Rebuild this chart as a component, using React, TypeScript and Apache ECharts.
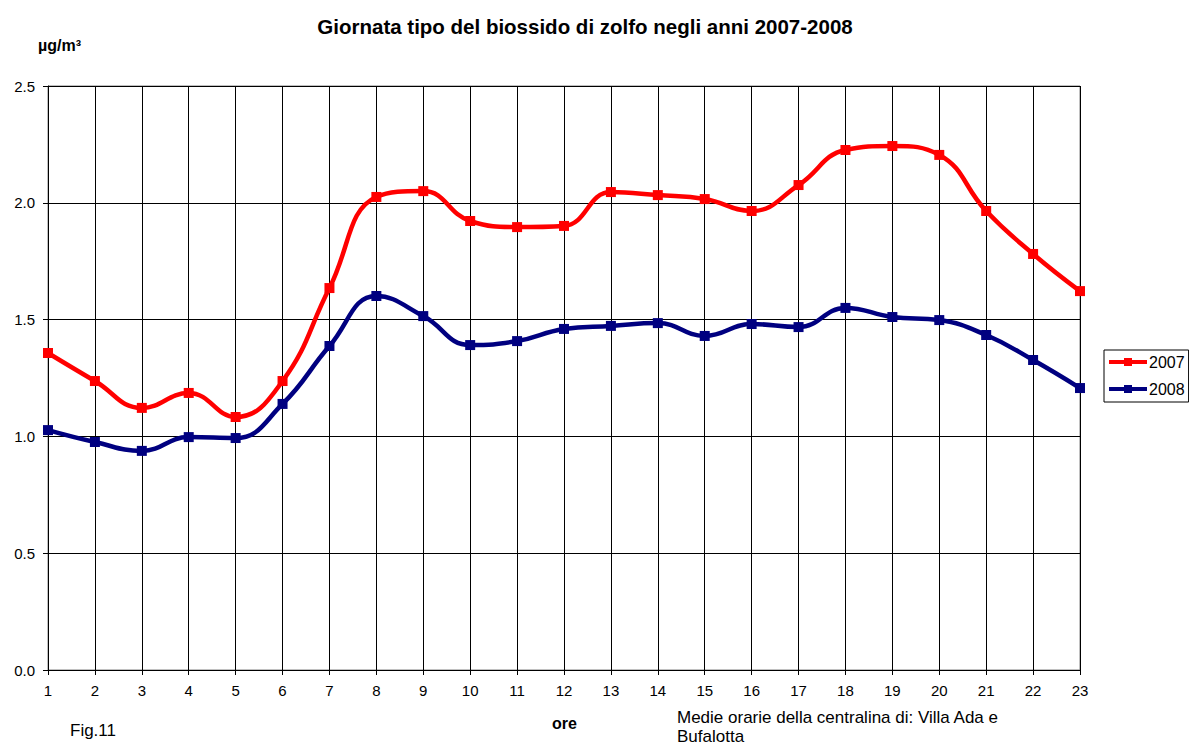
import React, { useEffect, useRef } from "react";
import * as echarts from "echarts";

const hours = ["1","2","3","4","5","6","7","8","9","10","11","12","13","14","15","16","17","18","19","20","21","22","23"];
const values2007 = [1.357,1.237,1.122,1.186,1.083,1.237,1.635,2.025,2.05,1.922,1.896,1.901,2.046,2.033,2.016,1.965,2.076,2.226,2.243,2.205,1.965,1.781,1.622];
const values2008 = [1.027,0.976,0.938,0.997,0.993,1.139,1.387,1.601,1.515,1.391,1.408,1.46,1.473,1.485,1.43,1.481,1.468,1.55,1.511,1.498,1.434,1.327,1.207];
const yTicks = { min: 0, max: 2.5, interval: 0.5 };

const FONT = "'Liberation Sans', Arial, sans-serif";

export default function App() {
  const ref = useRef<HTMLDivElement>(null);
  useEffect(() => {
    if (!ref.current) return;
    const chart = echarts.init(ref.current, null, { renderer: "svg" });
    chart.setOption({
      animation: false,
      backgroundColor: "#ffffff",
      textStyle: { fontFamily: FONT },
      grid: { left: 48, right: 109, top: 86, bottom: 75, show: true, borderColor: "#808080", borderWidth: 1 },
      title: [
        { text: "Giornata tipo del biossido di zolfo negli anni 2007-2008", left: 580, top: 11, textAlign: "center",
          textStyle: { fontFamily: FONT, fontSize: 20.5, fontWeight: "bold", color: "#000" } },
      ],
      graphic: [
        { type: "text", left: 38, top: 37, style: { text: "µg/m³", font: `bold 16px ${FONT}`, fill: "#000" } },
        { type: "text", left: 552, top: 715, style: { text: "ore", font: `bold 16px ${FONT}`, fill: "#000" } },
        { type: "text", left: 70, top: 722, style: { text: "Fig.11", font: `17px ${FONT}`, fill: "#000" } },
        { type: "text", left: 677, top: 708, style: { text: "Medie orarie della centralina di: Villa Ada e\nBufalotta", font: `17px ${FONT}`, lineHeight: 19, fill: "#000" } },
      ],
      legend: {
        orient: "vertical",
        left: 1104,
        top: 350,
        itemWidth: 38,
        itemHeight: 10,
        itemGap: 11,
        padding: [4, 4, 5, 3],
        borderColor: "#000",
        borderWidth: 1,
        borderRadius: 0,
        lineStyle: { width: 4 },
        textStyle: { fontFamily: FONT, fontSize: 16, color: "#000", padding: [0, 0, 0, -3] },
        data: ["2007", "2008"],
      },
      xAxis: {
        type: "category",
        data: hours,
        boundaryGap: false,
        axisLine: { lineStyle: { color: "#000", width: 1 } },
        axisTick: { show: true, inside: false, length: 5, lineStyle: { color: "#000" } },
        axisLabel: { fontFamily: FONT, fontSize: 15, color: "#000", margin: 13 },
        splitLine: { show: true, lineStyle: { color: "#000", width: 1 } },
      },
      yAxis: {
        type: "value",
        min: yTicks.min,
        max: yTicks.max,
        interval: yTicks.interval,
        axisLine: { show: true, lineStyle: { color: "#000" } },
        axisTick: { show: true, length: 5, lineStyle: { color: "#000" } },
        axisLabel: { fontFamily: FONT, fontSize: 15, color: "#000", margin: 13, formatter: (v: number) => v.toFixed(1) },
        splitLine: { show: true, lineStyle: { color: "#000", width: 1 } },
      },
      series: [
        { name: "2007", type: "line", data: values2007, smooth: 0.45, symbol: "rect", symbolSize: 10,
          lineStyle: { color: "#ff0000", width: 4.5 }, itemStyle: { color: "#ff0000" } },
        { name: "2008", type: "line", data: values2008, smooth: 0.45, symbol: "rect", symbolSize: 10,
          lineStyle: { color: "#000080", width: 4.5 }, itemStyle: { color: "#000080" } },
      ],
    });
    return () => chart.dispose();
  }, []);
  return <div ref={ref} style={{ width: 1189, height: 745, position: "absolute", left: 0, top: 0 }} />;
}
